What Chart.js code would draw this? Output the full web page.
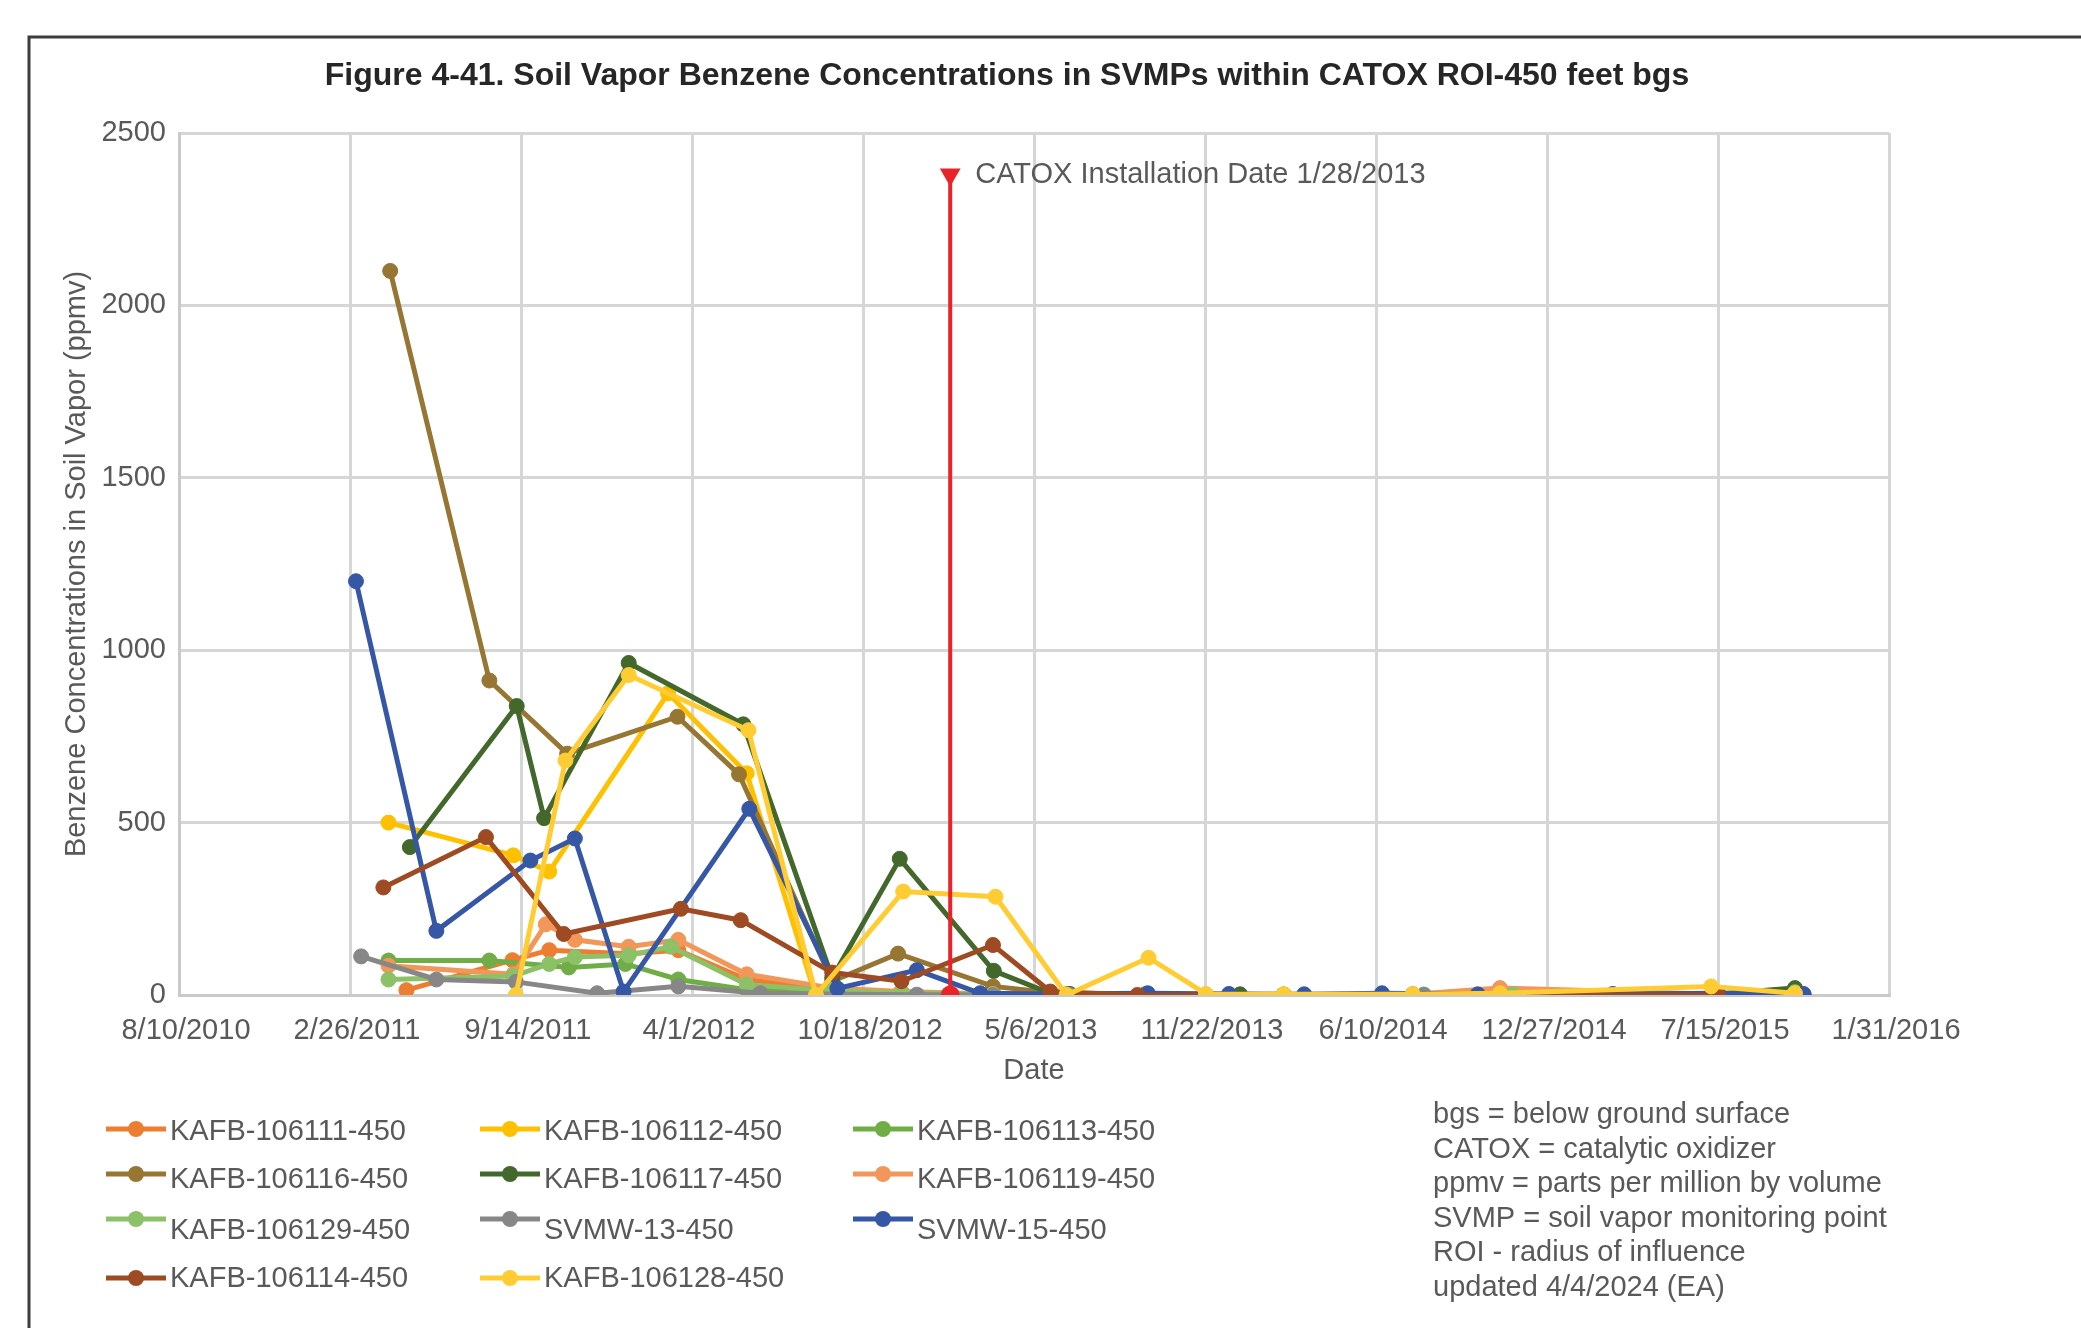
<!DOCTYPE html>
<html>
<head>
<meta charset="utf-8">
<title>Figure 4-41</title>
<script src="https://cdn.jsdelivr.net/npm/chart.js@4.4.1/dist/chart.umd.min.js"></script>
<style>
  html, body { margin: 0; padding: 0; background: #fff; }
  #chart { display: block; }
</style>
</head>
<body>
<canvas id="chart" width="2081" height="1328"></canvas>
<script>
// --- data (dates m/d/yyyy, benzene in ppmv) ---
const dates106111 = ['5/3/2011','9/4/2011','10/17/2011','1/18/2012','3/16/2012','6/4/2012','9/12/2012','12/2/2012','3/19/2013','6/13/2013','9/13/2013','11/23/2013','2/22/2014','7/23/2014','11/2/2014','7/15/2015','10/23/2015'];
const vals106111  = [14, 101, 130, 120, 130, 45, 15, 8, 2, 1, 1, 1, 1, 2, 3, 2, 1];

const dates106112 = ['4/12/2011','9/5/2011','10/17/2011','3/4/2012','6/4/2012','8/22/2012','12/2/2012','3/19/2013','6/13/2013','11/23/2013','2/22/2014','7/23/2014','11/2/2014','7/15/2015'];
const vals106112  = [500, 405, 358, 875, 643, 10, 2, 1, 0, 0, 0, 0, 0, 0];

const dates106113 = ['4/12/2011','8/8/2011','11/9/2011','1/14/2012','3/16/2012','6/4/2012','9/12/2012','11/30/2012','3/20/2013','6/13/2013','9/13/2013','11/23/2013','2/22/2014','8/5/2014','11/17/2014','7/15/2015','10/13/2015'];
const vals106113  = [100, 100, 80, 90, 45, 15, 8, 5, 2, 1, 1, 1, 1, 1, 2, 3, 5];

const dates106116 = ['4/14/2011','8/8/2011','11/7/2011','3/15/2012','5/26/2012','9/12/2012','11/28/2012','3/19/2013','6/13/2013','9/13/2013','11/23/2013','2/22/2014','7/23/2014','11/2/2014','7/15/2015','10/23/2015'];
const vals106116  = [2100, 912, 700, 807, 640, 40, 120, 25, 2, 1, 1, 1, 1, 5, 2, 1];

const dates106117 = ['5/7/2011','9/9/2011','10/11/2011','1/18/2012','5/31/2012','9/12/2012','11/30/2012','3/20/2013','5/25/2013','6/17/2013','9/13/2013','1/2/2014','2/22/2014','7/23/2014','11/17/2014','7/15/2015','10/13/2015'];
const vals106117  = [429, 838, 513, 963, 785, 50, 395, 70, 5, 3, 2, 2, 1, 1, 2, 3, 20];

const dates106119 = ['4/12/2011','9/5/2011','10/13/2011','11/16/2011','1/18/2012','3/16/2012','6/4/2012','9/12/2012','12/2/2012','3/19/2013','6/13/2013','9/13/2013','11/23/2013','2/22/2014','7/23/2014','11/2/2014','7/15/2015','10/23/2015'];
const vals106119  = [85, 60, 205, 160, 140, 160, 60, 20, 10, 3, 1, 1, 1, 1, 2, 20, 2, 1];

const dates106129 = ['4/12/2011','9/5/2011','10/17/2011','11/16/2011','1/18/2012','3/7/2012','6/4/2012','9/12/2012','12/2/2012','3/19/2013','6/13/2013','9/13/2013','11/23/2013','2/22/2014','8/5/2014','11/17/2014','7/15/2015','10/13/2015'];
const vals106129  = [45, 55, 90, 110, 115, 140, 30, 12, 6, 2, 1, 1, 1, 1, 1, 2, 3, 8];

const datesSVMW13 = ['3/11/2011','6/7/2011','9/8/2011','12/12/2011','3/16/2012','6/20/2012','9/19/2012','12/20/2012','3/19/2013','6/17/2013','9/16/2013','12/20/2013','3/18/2014','8/5/2014','11/2/2014','7/15/2015','10/23/2015'];
const valsSVMW13  = [112, 45, 38, 5, 25, 5, 2, 1, 0, 0, 0, 0, 0, 0, 0, 0, 0];

const datesSVMW15 = ['3/5/2011','6/7/2011','9/25/2011','11/16/2011','1/12/2012','6/7/2012','9/18/2012','12/20/2012','3/4/2013','5/25/2013','9/16/2013','12/20/2013','3/18/2014','6/17/2014','10/7/2014','3/14/2015','7/15/2015','10/23/2015'];
const valsSVMW15  = [1200, 186, 390, 454, 10, 540, 19, 72, 5, 3, 5, 3, 2, 5, 2, 3, 5, 3];

const dates106114 = ['4/6/2011','8/4/2011','11/3/2011','3/19/2012','5/28/2012','9/12/2012','12/2/2012','3/19/2013','5/25/2013','9/4/2013','11/23/2013','2/22/2014','7/23/2014','11/2/2014','7/15/2015'];
const vals106114  = [312, 458, 177, 250, 217, 65, 40, 145, 10, 0, 0, 0, 0, 0, 0];

const dates106128 = ['9/8/2011','11/5/2011','1/18/2012','6/6/2012','8/24/2012','12/4/2012','3/22/2013','6/13/2013','9/17/2013','11/23/2013','2/22/2014','7/23/2014','11/2/2014','7/7/2015','10/13/2015'];
const vals106128  = [0, 680, 928, 768, 0, 300, 285, 0, 108, 3, 2, 2, 5, 25, 5];

// CATOX installation marker
const catoxDates = ['1/28/2013', '1/28/2013'];
const catoxVals  = [0, 2380];
const catoxText  = 'CATOX Installation Date 1/28/2013';

// series in the order of the Excel legend
const seriesNames  = ['KAFB-106111-450','KAFB-106112-450','KAFB-106113-450','KAFB-106116-450','KAFB-106117-450','KAFB-106119-450','KAFB-106129-450','SVMW-13-450','SVMW-15-450','KAFB-106114-450','KAFB-106128-450'];
const seriesDates  = [dates106111, dates106112, dates106113, dates106116, dates106117, dates106119, dates106129, datesSVMW13, datesSVMW15, dates106114, dates106128];
const seriesValues = [vals106111, vals106112, vals106113, vals106116, vals106117, vals106119, vals106129, valsSVMW13, valsSVMW15, vals106114, vals106128];

// axis ticks
const xTickLabels = ['8/10/2010','2/26/2011','9/14/2011','4/1/2012','10/18/2012','5/6/2013','11/22/2013','6/10/2014','12/27/2014','7/15/2015','1/31/2016'];
const yTickLabels = [0, 500, 1000, 1500, 2000, 2500];

const titleText = 'Figure 4-41. Soil Vapor Benzene Concentrations in SVMPs within CATOX ROI-450 feet bgs';
const notes = [
  'bgs = below ground surface',
  'CATOX = catalytic oxidizer',
  'ppmv = parts per million by volume',
  'SVMP = soil vapor monitoring point',
  'ROI - radius of influence',
  'updated 4/4/2024 (EA)'
];

// --- styles ---
const seriesColors = ['#ED7D31','#FFC000','#70AD47','#977634','#43682B','#F1975A','#8CC168','#878787','#3557A6','#9E4A22','#FFCD33'];
const FONT = "'Liberation Sans', Arial, sans-serif";
const GREY = '#595959';
const TXT = 29;

// Excel-style serial dates, so the x axis is a plain linear scale
const BASE = Date.UTC(1899, 11, 30);
function toSerial(s) {
    const [m, d, y] = s.split('/').map(Number);
    return (Date.UTC(y, m - 1, d) - BASE) / 86400000;
}
function fromSerial(n) {
    const dt = new Date(BASE + n * 86400000);
    return (dt.getUTCMonth() + 1) + '/' + dt.getUTCDate() + '/' + dt.getUTCFullYear();
}

const datasets = seriesNames.map((name, i) => ({
    label: name,
    data: seriesDates[i].map((d, j) => ({ x: toSerial(d), y: seriesValues[i][j] })),
    borderColor: seriesColors[i],
    backgroundColor: seriesColors[i],
    pointBackgroundColor: seriesColors[i],
    pointBorderColor: seriesColors[i],
    borderWidth: 5,
    pointRadius: 7.5,
    pointBorderWidth: 1,
    tension: 0,
    order: -i // later series sit on top, like Excel
}));

datasets.push({
    label: 'CATOX',
    isCatox: true,
    data: catoxDates.map((d, j) => ({ x: toSerial(d), y: catoxVals[j] })),
    borderColor: '#E8242A',
    backgroundColor: '#E8242A',
    pointBackgroundColor: '#E8242A',
    pointBorderColor: '#E8242A',
    borderWidth: 4,
    pointRadius: [7.5, 8],
    pointStyle: ['circle', 'triangle'],
    rotation: [0, 180],
    order: -100
});

// legend grid: [column, row] for each series
const legendCols = [106, 480, 853];
const legendMarkerY = [1129, 1174, 1219, 1278];
const legendTextY = [1132, 1180, 1231, 1279];

const decorPlugin = {
    id: 'decor',
    beforeDraw(chart) {
        const ctx = chart.ctx;
        ctx.save();
        ctx.fillStyle = '#fff';
        ctx.fillRect(0, 0, chart.width, chart.height);
        // outer frame (runs off the picture on the right and bottom)
        ctx.strokeStyle = '#3c3c3c';
        ctx.lineWidth = 3;
        ctx.beginPath();
        ctx.moveTo(29, chart.height);
        ctx.lineTo(29, 37);
        ctx.lineTo(chart.width, 37);
        ctx.stroke();
        ctx.restore();
    },
    afterDraw(chart) {
        const ctx = chart.ctx;
        ctx.save();

        // title
        ctx.fillStyle = '#262626';
        ctx.font = 'bold 32px ' + FONT;
        ctx.textAlign = 'center';
        ctx.textBaseline = 'middle';
        ctx.fillText(titleText, 1007, 76);

        // CATOX label next to the top marker
        const catoxIdx = chart.data.datasets.findIndex(ds => ds.isCatox);
        const top = chart.getDatasetMeta(catoxIdx).data[1];
        ctx.fillStyle = GREY;
        ctx.font = TXT + 'px ' + FONT;
        ctx.textAlign = 'left';
        ctx.fillText(catoxText, top.x + 25, top.y + 1);

        // legend, 3 columns
        chart.data.datasets.forEach((ds, i) => {
            if (ds.isCatox) return;
            const col = i % 3, row = Math.floor(i / 3);
            const x0 = legendCols[col];
            const my = legendMarkerY[row];
            ctx.strokeStyle = ds.borderColor;
            ctx.lineWidth = 5;
            ctx.beginPath();
            ctx.moveTo(x0, my);
            ctx.lineTo(x0 + 60, my);
            ctx.stroke();
            ctx.fillStyle = ds.borderColor;
            ctx.beginPath();
            ctx.arc(x0 + 30, my, 8, 0, Math.PI * 2);
            ctx.fill();
            ctx.fillStyle = GREY;
            ctx.fillText(ds.label, x0 + 64, legendTextY[row]);
        });

        // abbreviations block
        notes.forEach((line, k) => {
            ctx.fillText(line, 1433, 1115 + k * 34.5);
        });

        ctx.restore();
    }
};

const ctx = document.getElementById('chart').getContext('2d');
const chart = new Chart(ctx, {
    type: 'line',
    data: { datasets },
    options: {
        responsive: false,
        animation: false,
        devicePixelRatio: 1,
        layout: { padding: { left: 0, top: 133, right: 192, bottom: 223 } },
        plugins: {
            legend: { display: false },
            title: { display: false },
            tooltip: { enabled: false }
        },
        scales: {
            x: {
                type: 'linear',
                min: toSerial(xTickLabels[0]),
                max: toSerial(xTickLabels[xTickLabels.length - 1]),
                afterBuildTicks: scale => {
                    scale.ticks = xTickLabels.map(s => ({ value: toSerial(s) }));
                },
                afterFit: scale => { scale.height = 110; },
                grid: { color: '#D6D6D6', lineWidth: 3, drawTicks: false },
                border: { color: '#CACACA', width: 3 },
                ticks: {
                    autoSkip: false,
                    maxRotation: 0,
                    padding: 19,
                    labelOffset: 7,
                    color: GREY,
                    font: { family: FONT, size: TXT },
                    callback: v => fromSerial(v)
                },
                title: {
                    display: true,
                    text: 'Date',
                    color: GREY,
                    font: { family: FONT, size: TXT },
                    padding: { top: 0, bottom: 17 }
                }
            },
            y: {
                min: yTickLabels[0],
                max: yTickLabels[yTickLabels.length - 1],
                afterBuildTicks: scale => {
                    scale.ticks = yTickLabels.map(v => ({ value: v }));
                },
                afterFit: scale => { scale.width = 179; },
                grid: { color: '#D6D6D6', lineWidth: 3, drawTicks: false },
                border: { color: '#CACACA', width: 3 },
                ticks: {
                    padding: 13,
                    color: GREY,
                    font: { family: FONT, size: TXT },
                    callback: v => String(v)
                },
                title: {
                    display: true,
                    text: 'Benzene Concentrations in Soil Vapor (ppmv)',
                    color: GREY,
                    font: { family: FONT, size: TXT },
                    padding: { top: 60, bottom: 0 }
                }
            }
        }
    },
    plugins: [decorPlugin]
});
</script>
</body>
</html>
